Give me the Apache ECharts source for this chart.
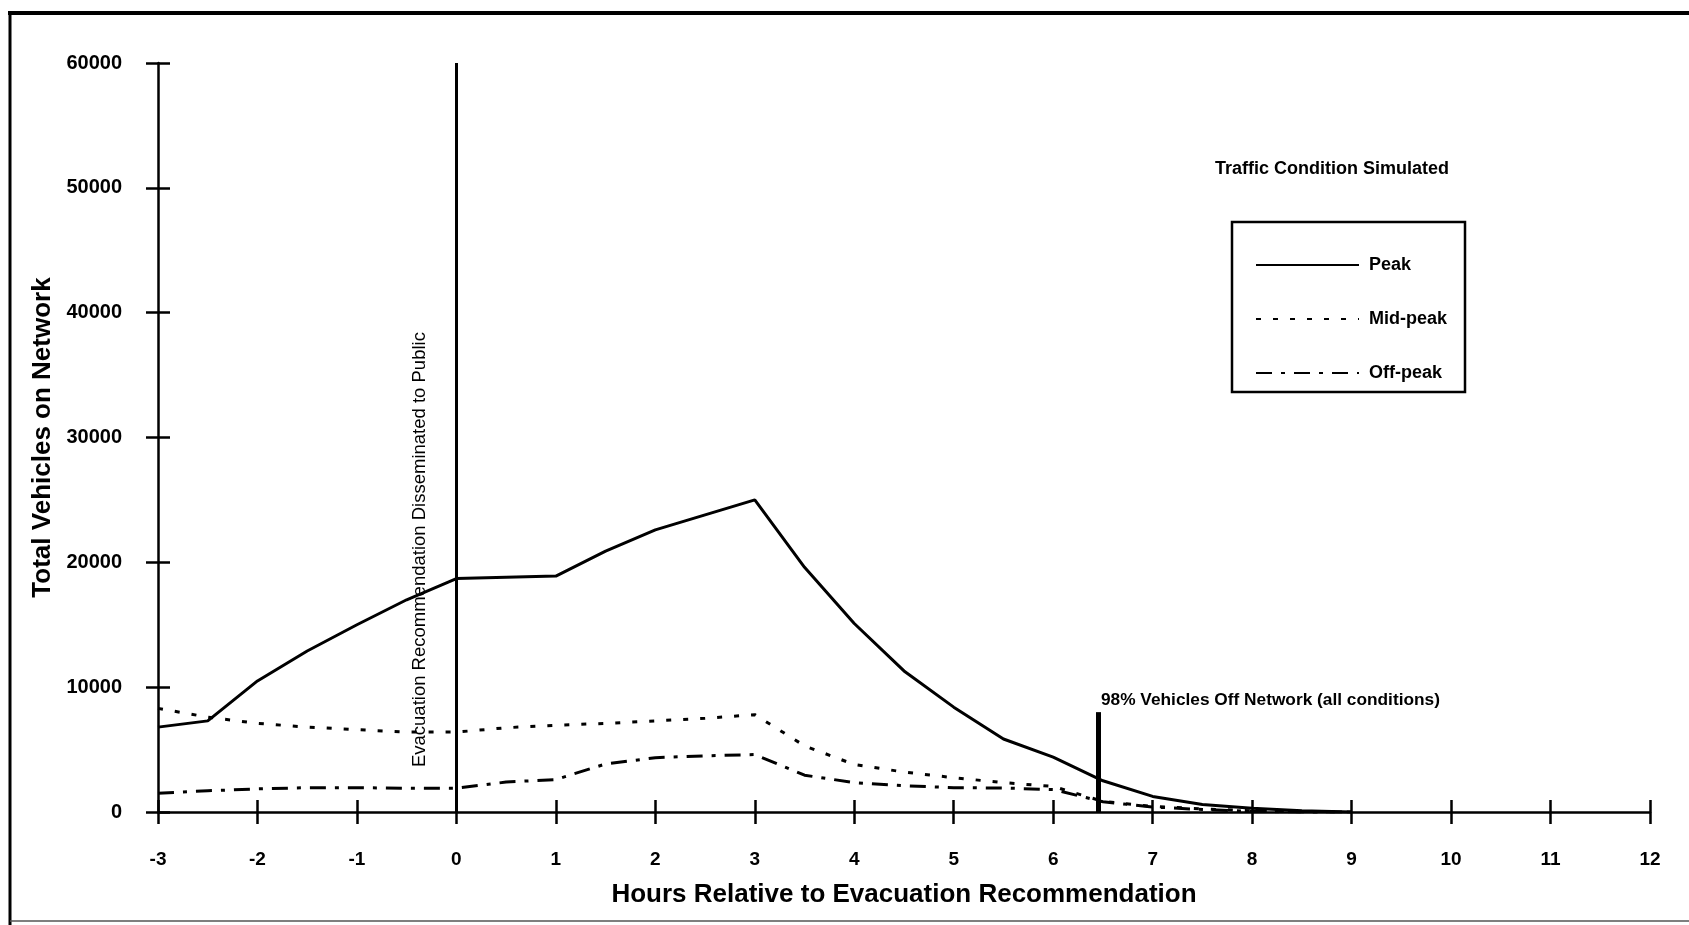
<!DOCTYPE html>
<html><head><meta charset="utf-8">
<script src="https://cdn.jsdelivr.net/npm/echarts@6/dist/echarts.min.js"></script>
<style>html,body{margin:0;padding:0;background:#fff}#c{width:1689px;height:925px}</style>
</head><body><div id="c"></div><script>
const FONT = '"Liberation Sans", Arial, Helvetica, sans-serif';

// Data
const hours = [-3,-2.5,-2,-1.5,-1,-0.5,0,0.5,1,1.5,2,2.5,3,3.5,4,4.5,5,5.5,6,6.5,7,7.5,8,8.5,9];
const peak  = [6800,7300,10500,12900,15000,17000,18700,18800,18900,20900,22600,23800,25000,19600,15100,11300,8400,5850,4400,2500,1250,600,300,100,0];
const midPeak = [8300,7600,7100,6800,6600,6400,6400,6750,6950,7100,7300,7500,7800,5300,3800,3200,2750,2350,2050,850,450,250,100,0,0];
const offPeak = [1500,1700,1850,1950,1950,1900,1900,2400,2600,3850,4350,4500,4600,2950,2350,2100,1950,1920,1800,820,400,200,50,0,0];
const seriesNames = ['Peak','Mid-peak','Off-peak'];

const xMin = -3, xMax = 12, xStep = 1;
const yMin = 0, yMax = 60000, yStep = 10000;

// Annotations
const evacHour = 0;
const evacLabel = 'Evacuation Recommendation Disseminated to Public';
const evacLabelStartValue = 3600;
const offHour = 6.45;
const offLineTop = 8000;
const offLabel = '98% Vehicles Off Network (all conditions)';
const legendTitle = 'Traffic Condition Simulated';
const xTitle = 'Hours Relative to Evacuation Recommendation';
const yTitle = 'Total Vehicles on Network';

const pairs = vals => hours.map((h, i) => [h, vals[i]]);

const chart = echarts.init(document.getElementById('c'));
const tickStyle = { color: '#000', width: 2.5 };
const axisCommon = {
  type: 'value',
  splitLine: { show: false },
  axisLine: { show: true, onZero: false, lineStyle: { color: '#000', width: 2.5 } },
  axisTick: { show: true, length: 12, lineStyle: tickStyle },
};
const innerAxis = {
  axisLine: { show: false, onZero: false },
  axisTick: { show: true, inside: true, length: 12, lineStyle: tickStyle },
  axisLabel: { show: false }
};
chart.setOption({
  animation: false,
  backgroundColor: '#fff',
  textStyle: { fontFamily: FONT },
  grid: { left: 158, right: 39, top: 63, bottom: 113 },
  xAxis: [
    Object.assign({}, axisCommon, {
      min: xMin, max: xMax, interval: xStep,
      axisLabel: { color: '#000', fontWeight: 'bold', fontSize: 19, margin: 38, fontFamily: FONT, formatter: v => String(v) },
      name: xTitle, nameLocation: 'middle', nameGap: 70,
      nameTextStyle: { color: '#000', fontWeight: 'bold', fontSize: 26, fontFamily: FONT }
    }),
    Object.assign({}, axisCommon, innerAxis, { min: xMin, max: xMax, interval: xStep, position: 'bottom' })
  ],
  yAxis: [
    Object.assign({}, axisCommon, {
      min: yMin, max: yMax, interval: yStep,
      axisLabel: { color: '#000', fontWeight: 'bold', fontSize: 20, margin: 36, fontFamily: FONT, formatter: v => String(v) },
      name: yTitle, nameLocation: 'middle', nameGap: 100,
      nameTextStyle: { color: '#000', fontWeight: 'bold', fontSize: 26, fontFamily: FONT }
    }),
    Object.assign({}, axisCommon, innerAxis, { min: yMin, max: yMax, interval: yStep, position: 'left' })
  ],
  legend: {
    data: seriesNames,
    orient: 'vertical',
    left: 1250, top: 251,
    itemWidth: 103, itemHeight: 14, itemGap: 36,
    itemStyle: { opacity: 0 },
    textStyle: { color: '#000', fontWeight: 'bold', fontSize: 18, fontFamily: FONT, padding: [0,0,0,5] }
  },
  series: [
    {
      name: seriesNames[0], type: 'line', data: pairs(peak), symbol: 'none',
      lineStyle: { color: '#000', width: 3, type: 'solid' }, itemStyle: { color: '#000' },
      markLine: {
        silent: true, symbol: 'none', animation: false,
        label: { show: false },
        data: [
          [{ coord: [evacHour, yMin], lineStyle: { color: '#000', width: 3, type: 'solid' } }, { coord: [evacHour, yMax] }],
          [{ coord: [offHour, yMin], lineStyle: { color: '#000', width: 5, type: 'solid' } }, { coord: [offHour, offLineTop] }]
        ]
      }
    },
    {
      name: seriesNames[1], type: 'line', data: pairs(midPeak), symbol: 'none',
      lineStyle: { color: '#000', width: 3, type: [5, 12] }, itemStyle: { color: '#000' }
    },
    {
      name: seriesNames[2], type: 'line', data: pairs(offPeak), symbol: 'none',
      lineStyle: { color: '#000', width: 3, type: [16, 9, 4, 9] }, itemStyle: { color: '#000' }
    }
  ]
});

const pEvac = chart.convertToPixel({ xAxisIndex: 0, yAxisIndex: 0 }, [evacHour, evacLabelStartValue]);
const pOff = chart.convertToPixel({ xAxisIndex: 0, yAxisIndex: 0 }, [offHour, offLineTop]);

chart.setOption({
  graphic: [
    { type: 'line', shape: { x1: 10, y1: 12, x2: 10, y2: 925 }, style: { stroke: '#000', lineWidth: 3 } },
    { type: 'line', shape: { x1: 8, y1: 13, x2: 1689, y2: 13 }, style: { stroke: '#000', lineWidth: 4 } },
    { type: 'line', shape: { x1: 10, y1: 921, x2: 1689, y2: 921 }, style: { stroke: '#555', lineWidth: 1.5 } },
    { type: 'rect', shape: { x: 1232, y: 222, width: 233, height: 170 }, style: { stroke: '#000', lineWidth: 2.5, fill: 'none' } },
    { type: 'text', x: 1332, y: 169, style: { text: legendTitle, fill: '#000', fontSize: 18, fontWeight: 'bold', fontFamily: FONT, textAlign: 'center', textVerticalAlign: 'middle', align: 'center', verticalAlign: 'middle' } },
    { type: 'text', x: pEvac[0] - 27, y: pEvac[1], rotation: Math.PI / 2,
      style: { text: evacLabel, fill: '#000', fontSize: 18.5, fontFamily: FONT, textAlign: 'left', textVerticalAlign: 'bottom', align: 'left', verticalAlign: 'bottom' } },
    { type: 'text', x: pOff[0] + 3, y: pOff[1] - 3,
      style: { text: offLabel, fill: '#000', fontSize: 17.3, fontWeight: 'bold', fontFamily: FONT, textAlign: 'left', textVerticalAlign: 'bottom', align: 'left', verticalAlign: 'bottom' } }
  ]
});
</script></body></html>
